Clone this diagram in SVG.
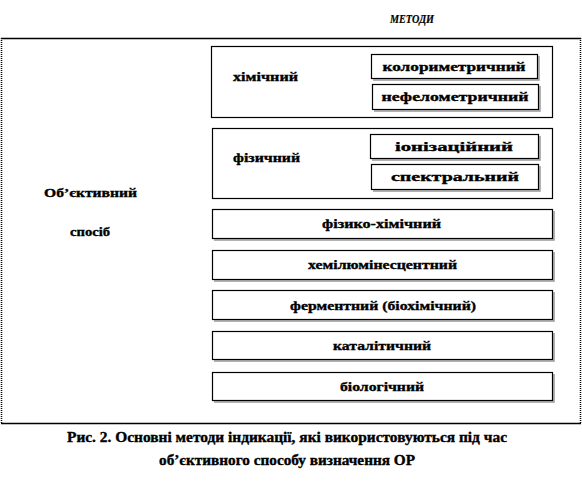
<svg xmlns="http://www.w3.org/2000/svg" width="582" height="484" viewBox="0 0 582 484" font-family="Liberation Serif, DejaVu Serif, serif" font-weight="bold">
<style>
.t{font-size:13px;text-anchor:middle;fill:#000;stroke:#000;stroke-width:0.35}
.box{fill:#fff;stroke:#000;stroke-width:1.2}
.sh{fill:none;stroke:#999;stroke-width:1.5}
.cap{font-size:14px;text-anchor:middle;fill:#000;stroke:#000;stroke-width:0.35}
</style>
<rect width="582" height="484" fill="#fff"/>
<text x="412" y="23" font-style="italic" font-size="12" text-anchor="middle" textLength="44" lengthAdjust="spacingAndGlyphs" stroke="#000" stroke-width="0.2">МЕТОДИ</text>
<g id="frame">
<line x1="1" y1="38.5" x2="581" y2="38.5" stroke="#000" stroke-width="1.5"/>
<line x1="1" y1="423.5" x2="581" y2="423.5" stroke="#000" stroke-width="1.5"/>
<line x1="1.5" y1="38" x2="1.5" y2="424" stroke="#000" stroke-width="1.5" stroke-dasharray="1,1"/>
<line x1="580.5" y1="38" x2="580.5" y2="424" stroke="#000" stroke-width="1.5" stroke-dasharray="1,1"/>
</g>
<g id="connectors"></g>
<g id="objective">
<text class="t" x="90.5" y="197" textLength="93" lengthAdjust="spacingAndGlyphs">Об’єктивний</text>
<text class="t" x="90" y="236" textLength="40" lengthAdjust="spacingAndGlyphs">спосіб</text>
</g>
<g id="chemical">
<rect class="box" x="211.5" y="46.5" width="341" height="71"/>
<text class="t" x="265.5" y="81" textLength="65" lengthAdjust="spacingAndGlyphs">хімічний</text>
</g>
<g id="colorimetric">
<path class="sh" d="M539 56 V80 H373"/>
<rect class="box" x="371.5" y="54.5" width="166" height="24"/>
<text class="t" x="454" y="71" textLength="143" lengthAdjust="spacingAndGlyphs">колориметричний</text>
</g>
<g id="nephelometric">
<path class="sh" d="M540 86 V111 H374"/>
<rect class="box" x="372.5" y="84.5" width="166" height="25"/>
<text class="t" x="455" y="101" textLength="147" lengthAdjust="spacingAndGlyphs">нефелометричний</text>
</g>
<g id="physical">
<rect class="box" x="212.5" y="128.5" width="340" height="70"/>
<text class="t" x="266.5" y="162" textLength="67" lengthAdjust="spacingAndGlyphs">фізичний</text>
</g>
<g id="ionization">
<path class="sh" d="M540 136 V160 H372"/>
<rect class="box" x="370.5" y="134.5" width="168" height="24"/>
<text class="t" x="454" y="151" textLength="118" lengthAdjust="spacingAndGlyphs">іонізаційний</text>
</g>
<g id="spectral">
<path class="sh" d="M540 166 V191 H373"/>
<rect class="box" x="371.5" y="164.5" width="167" height="25"/>
<text class="t" x="455" y="181" textLength="128" lengthAdjust="spacingAndGlyphs">спектральний</text>
</g>
<g id="physchem">
<path class="sh" d="M554 211 V240 H214"/>
<rect class="box" x="212.5" y="209.5" width="340" height="29"/>
<text class="t" x="381.5" y="228" textLength="119" lengthAdjust="spacingAndGlyphs">фізико-хімічний</text>
</g>
<g id="chemilum">
<path class="sh" d="M554 252 V281 H214"/>
<rect class="box" x="212.5" y="250.5" width="340" height="29"/>
<text class="t" x="382.5" y="269" textLength="149" lengthAdjust="spacingAndGlyphs">хемілюмінесцентний</text>
</g>
<g id="enzyme">
<path class="sh" d="M554 292 V321 H214"/>
<rect class="box" x="212.5" y="290.5" width="340" height="29"/>
<text class="t" x="383" y="310" textLength="186" lengthAdjust="spacingAndGlyphs">ферментний (біохімічний)</text>
</g>
<g id="catalytic">
<path class="sh" d="M554 333 V361 H214"/>
<rect class="box" x="212.5" y="331.5" width="340" height="28"/>
<text class="t" x="382" y="350" textLength="98" lengthAdjust="spacingAndGlyphs">каталітичний</text>
</g>
<g id="biological">
<path class="sh" d="M554 374 V402 H214"/>
<rect class="box" x="212.5" y="372.5" width="340" height="28"/>
<text class="t" x="382" y="391" textLength="84" lengthAdjust="spacingAndGlyphs">біологічний</text>
</g>
<g id="caption">
<text class="cap" x="287" y="442" textLength="440" lengthAdjust="spacingAndGlyphs">Рис. 2. Основні методи індикації,  які  використовуються під час</text>
<text class="cap" x="287" y="465" textLength="256" lengthAdjust="spacingAndGlyphs">об’єктивного способу визначення ОР</text>
</g>
</svg>
